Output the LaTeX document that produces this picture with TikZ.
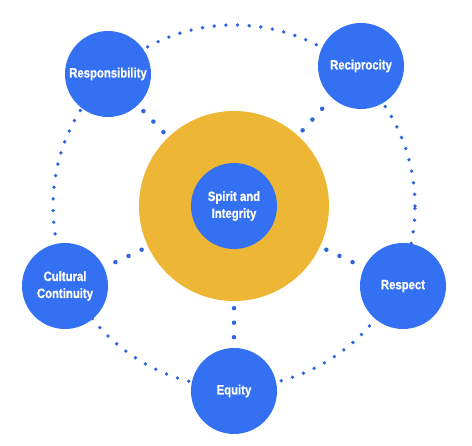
\documentclass[tikz,border=0pt]{standalone}
\usepackage{fontspec}
\setmainfont{Liberation Sans}[FakeStretch=0.84,BoldFeatures={FakeBold=0.6}]
\usetikzlibrary{positioning}

\definecolor{valueblue}{HTML}{3471F2}
\definecolor{dotblue}{HTML}{2F66E0}
\definecolor{coreyellow}{HTML}{EDB735}

\tikzset{
  value/.style={circle,fill=valueblue,minimum size=86pt,inner sep=0pt,
    text=white,font=\fontsize{13.5}{17}\selectfont\bfseries,align=center},
  ring/.style={dotblue,line width=3.8pt,line cap=round,dash pattern=on 0pt off 11.7pt},
  spoke/.style={dotblue,line width=4.5pt,line cap=round,dash pattern=on 0pt off 14.5pt,
    shorten <=7pt,shorten >=5pt}
}

\begin{document}
\begin{tikzpicture}[x=1pt,y=-1pt]
        \useasboundingbox (0,0) rectangle (472,446);
        \coordinate (C) at (234,206);
        \draw[ring] (C) circle (181pt);

        \node[circle,fill=coreyellow,minimum size=190pt,inner sep=0pt] at (C) (Core) {};
        \node[value] at (C) (Spirit) {Spirit and\\Integrity};

        \node[value] at (108,74) (Resp) {Responsibility};
        \node[value] at (361,66) (Reci) {Reciprocity};
        \node[value] at (403,286) (Resc) {Respect};
        \node[value] at (234,391) (Equi) {Equity};
        \node[value] at (65,286) (Cult) {Cultural\\Continuity};

        \draw[spoke] (Core) -- (Resp);
        \draw[spoke] (Core) -- (Reci);
        \draw[spoke] (Core) -- (Resc);
        \draw[spoke] (Core) -- (Equi);
        \draw[spoke] (Core) -- (Cult);
      \end{tikzpicture}
\end{document}
